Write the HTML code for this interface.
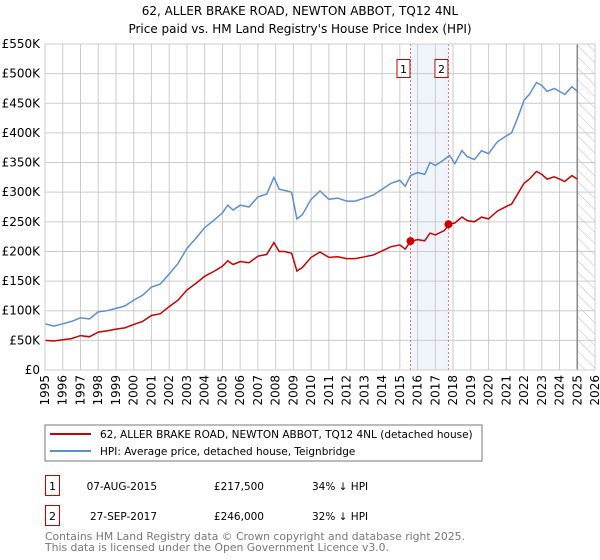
<!DOCTYPE html>
<html><head><meta charset="utf-8"><style>
body{margin:0;background:#fff;}
svg{display:block;font-family:"DejaVu Sans","Liberation Sans",sans-serif;}
</style></head><body>
<svg id="chart" width="600" height="560">
<text x="300" y="15" text-anchor="middle" font-size="12">62, ALLER BRAKE ROAD, NEWTON ABBOT, TQ12 4NL</text>
<text x="300" y="33" text-anchor="middle" font-size="12">Price paid vs. HM Land Registry's House Price Index (HPI)</text>
<g id="grid"></g><g id="marks"></g><g id="axes"></g>
<rect x="45" y="425" width="437" height="36" fill="none" stroke="#777"/>
<line x1="50" y1="434" x2="91" y2="434" stroke="#cc0000" stroke-width="2"/>
<text x="100" y="438" font-size="10.5">62, ALLER BRAKE ROAD, NEWTON ABBOT, TQ12 4NL (detached house)</text>
<line x1="50" y1="451" x2="91" y2="451" stroke="#5b8fd4" stroke-width="2"/>
<text x="100" y="455" font-size="10.5">HPI: Average price, detached house, Teignbridge</text>
<g>
<rect x="45.5" y="475.5" width="14" height="20" fill="none" stroke="#cc0000"/>
<text x="52.5" y="490" text-anchor="middle" font-size="11">1</text>
<text x="157" y="490" text-anchor="end" font-size="10.5">07-AUG-2015</text>
<text x="264" y="490" text-anchor="end" font-size="10.5">£217,500</text>
<text x="312" y="490" font-size="10.5">34% ↓ HPI</text></g>
<g>
<rect x="45.5" y="505.5" width="14" height="20" fill="none" stroke="#cc0000"/>
<text x="52.5" y="520" text-anchor="middle" font-size="11">2</text>
<text x="157" y="520" text-anchor="end" font-size="10.5">27-SEP-2017</text>
<text x="264" y="520" text-anchor="end" font-size="10.5">£246,000</text>
<text x="312" y="520" font-size="10.5">32% ↓ HPI</text></g>
<text x="45" y="540" font-size="10.8" fill="#777">Contains HM Land Registry data © Crown copyright and database right 2025.</text>
<text x="45" y="551" font-size="10.8" fill="#777">This data is licensed under the Open Government Licence v3.0.</text>
</svg>
<script>
const hpiYears=[1995,1995.5,1996,1996.5,1997,1997.5,1998,1998.5,1999,1999.5,2000,2000.5,2001,2001.5,2002,2002.5,2003,2003.5,2004,2004.5,2005,2005.3,2005.6,2006,2006.5,2007,2007.5,2007.9,2008.2,2008.5,2008.9,2009.2,2009.5,2010,2010.5,2011,2011.5,2012,2012.5,2013,2013.5,2014,2014.5,2015,2015.3,2015.6,2016,2016.4,2016.7,2017,2017.5,2017.8,2018.1,2018.5,2018.8,2019.2,2019.6,2020,2020.5,2021,2021.3,2021.7,2022,2022.3,2022.7,2023,2023.3,2023.7,2024,2024.3,2024.7,2025];
const hpiValues=[78,74,78,82,88,86,98,100,104,108,118,126,140,145,162,180,205,222,240,252,265,278,270,278,275,292,297,325,305,303,300,255,262,288,302,288,290,285,285,290,295,305,315,320,310,328,333,330,350,345,355,362,348,370,360,355,370,365,385,395,400,430,455,465,485,480,470,475,470,465,478,470];
const priceValues=[50,49,51,53,58,56,64,66,69,71,77,82,92,95,107,118,135,146,158,166,175,184,178,183,181,192,195,215,200,200,197,167,173,190,199,190,191,188,188,191,194,201,208,211,204,217,220,218,231,228,235,246,248,258,252,250,258,255,268,276,280,300,315,322,335,330,322,326,322,318,328,322];
const saleYears=[2015.6,2017.74];
const salePrices=[217.5,246];
const saleLabels=["1","2"];
const yTicks=[0,50,100,150,200,250,300,350,400,450,500,550];
const yTickLabels=["£0","£50K","£100K","£150K","£200K","£250K","£300K","£350K","£400K","£450K","£500K","£550K"];
const xTicks=[1995,1996,1997,1998,1999,2000,2001,2002,2003,2004,2005,2006,2007,2008,2009,2010,2011,2012,2013,2014,2015,2016,2017,2018,2019,2020,2021,2022,2023,2024,2025,2026];

const X0=45,X1=595,Y0=370,Y1=44;
const xs=y=>X0+(y-1995)/(2026-1995)*(X1-X0);
const ys=v=>Y0-v/550*(Y0-Y1);
const NS="http://www.w3.org/2000/svg";
function mk(tag,attrs,parent){const e=document.createElementNS(NS,tag);for(const k in attrs)e.setAttribute(k,attrs[k]);parent.appendChild(e);return e;}
const grid=document.getElementById('grid'),marks=document.getElementById('marks'),axes=document.getElementById('axes');
let band=mk('rect',{x:xs(saleYears[0]),y:Y1,width:xs(saleYears[1])-xs(saleYears[0]),height:Y0-Y1,fill:'#f0f5fd'},grid);


const defs=mk('defs',{},grid);
const pat=mk('pattern',{id:'hatch',width:8,height:8,patternUnits:'userSpaceOnUse',patternTransform:'rotate(-45)'},defs);
mk('line',{x1:0,y1:0,x2:0,y2:8,stroke:'#bbb','stroke-width':1},pat);
let fut=mk('rect',{x:xs(2025),y:Y1,width:X1-xs(2025),height:Y0-Y1,fill:'url(#hatch)'},grid);


yTicks.forEach((t,i)=>{
  let l=mk('line',{x1:X0,x2:X1,y1:ys(t),y2:ys(t),stroke:'#ccc'},grid);
  
  
  let tx=mk('text',{x:40,y:ys(t)+4,'text-anchor':'end','font-size':12},axes);
  tx.textContent=yTickLabels[i];
  
  
});
xTicks.forEach(t=>{
  let l=mk('line',{x1:xs(t),x2:xs(t),y1:Y1,y2:Y0,stroke:'#ccc'},grid);
  
  
  let tx=mk('text',{x:0,y:0,'text-anchor':'end','font-size':12,transform:`translate(${xs(t)+4},375) rotate(-90)`},axes);
  tx.textContent=t;
  
  
});
let nl=mk('line',{x1:xs(2025),x2:xs(2025),y1:Y1,y2:Y0,stroke:'#888','stroke-width':1.5},grid);


saleYears.forEach((s,i)=>{
  let l=mk('line',{x1:xs(s),x2:xs(s),y1:Y1,y2:Y0,stroke:'#f07070','stroke-dasharray':'2,2'},grid);
  
  
  let b=mk('rect',{x:xs(s)-13.5,y:59.5,width:13,height:18,fill:'#fff',stroke:'#cc0000'},axes);
  
  
  let t=mk('text',{x:xs(s)-7,y:73,'text-anchor':'middle','font-size':11},axes);
  t.textContent=saleLabels[i];
  
  
});
const pts=(vals)=>hpiYears.map((y,i)=>xs(y).toFixed(1)+','+ys(vals[i]).toFixed(1)).join(' ');
let hl=mk('polyline',{points:pts(hpiValues),fill:'none',stroke:'#5b8fd4','stroke-width':1.5},marks);


let pl=mk('polyline',{points:pts(priceValues),fill:'none',stroke:'#cc0000','stroke-width':1.5},marks);


saleYears.forEach((s,i)=>{
  let c=mk('circle',{cx:xs(s),cy:ys(salePrices[i]),r:4,fill:'#cc0000'},marks);
  
  
});
let fr=mk('rect',{x:X0,y:Y1,width:X1-X0,height:Y0-Y1,fill:'none',stroke:'#ccc'},axes);


</script>
</body></html>
